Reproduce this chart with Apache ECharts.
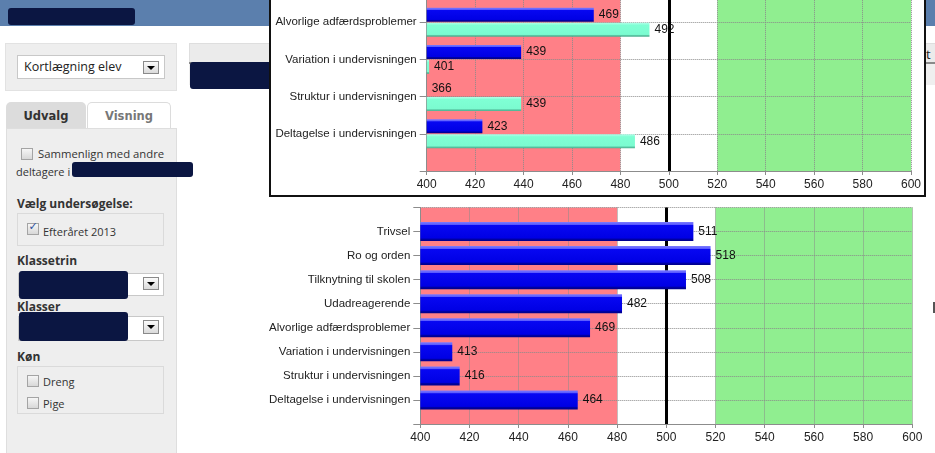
<!DOCTYPE html>
<html>
<head>
<meta charset="utf-8">
<script src="https://cdn.jsdelivr.net/npm/echarts@6/dist/echarts.min.js"></script>
<style>
html,body{margin:0;padding:0;width:935px;height:453px;overflow:hidden;background:#fff;font-family:"Open Sans",sans-serif;}
.a{position:absolute;box-sizing:border-box;}
.red{background:#0b1642;border-radius:3px;}
.t{position:absolute;white-space:nowrap;height:16px;line-height:16px;color:#222;}
.b{font-weight:bold;font-family:"Open Sans",sans-serif;font-size:12px;color:#333;}
.cb{position:absolute;box-sizing:border-box;width:12px;height:12px;border:1px solid #a4a4a4;background:linear-gradient(#f6f6f6,#d8d8d8);}
.arr{position:absolute;box-sizing:border-box;border:1px solid #8a8a8a;background:linear-gradient(#fbfbfb,#dadada);}
.arr:after{content:"";position:absolute;left:50%;top:50%;margin-left:-4px;margin-top:-2px;border-left:4px solid transparent;border-right:4px solid transparent;border-top:4px solid #000;}
.sel{position:absolute;box-sizing:border-box;background:#fff;border:1px solid #c8c8c8;}
</style>
</head>
<body>
<!-- header -->
<div class="a" style="left:0;top:0;width:935px;height:26px;background:#5b7fad;"></div>
<div class="a red" style="left:8px;top:8px;width:127px;height:17px;"></div>

<!-- top panel left -->
<div class="a" style="left:5px;top:43px;width:172px;height:48px;background:#eeeeee;border:1px solid #e2e2e2;"></div>
<div class="sel" style="left:17px;top:55px;width:148px;height:24px;"></div>
<div class="t" style="left:24px;top:59px;font-size:12.5px;color:#222;">Kortlægning elev</div>
<div class="arr" style="left:143px;top:61px;width:16px;height:13px;"></div>

<!-- middle table header -->
<div class="a" style="left:189px;top:43px;width:746px;height:20px;background:#ebebeb;border:1px solid #dedede;border-right:none;"></div>
<div class="a" style="left:189px;top:62px;width:746px;height:2px;background:#8a8a8a;"></div>
<div class="a" style="left:189px;top:64px;width:746px;height:21px;background:#efefef;"></div>
<div class="t" style="left:926px;top:46px;font-size:13px;color:#222;">t</div>
<div class="a red" style="left:190px;top:62px;width:110px;height:27px;"></div>

<!-- tabs -->
<div class="a" style="left:6px;top:102px;width:80px;height:27px;background:#dcdcdc;border-radius:5px 5px 0 0;"></div>
<div class="t b" style="left:6px;top:108px;width:80px;text-align:center;font-family:'DejaVu Sans',sans-serif;font-size:11.5px;">Udvalg</div>
<div class="a" style="left:87px;top:102px;width:84px;height:27px;background:#fff;border:1px solid #dcdcdc;border-bottom:none;border-radius:5px 5px 0 0;"></div>
<div class="t b" style="left:87px;top:108px;width:84px;text-align:center;font-family:'DejaVu Sans',sans-serif;font-size:11.5px;color:#777;">Visning</div>

<!-- panel -->
<div class="a" style="left:6px;top:128px;width:171px;height:340px;background:#eeeeee;border:1px solid #dedede;"></div>
<div class="cb" style="left:21px;top:148px;"></div>
<div class="t" style="left:38px;top:146px;font-size:11.3px;color:#333;">Sammenlign med andre</div>
<div class="t" style="left:16px;top:164px;font-size:11px;color:#333;">deltagere i</div>
<div class="a red" style="left:72px;top:162px;width:121px;height:15px;"></div>

<div class="t b" style="left:17px;top:196px;">Vælg undersøgelse:</div>
<div class="a" style="left:17px;top:213px;width:147px;height:33px;border:1px solid #dadada;"></div>
<div class="cb" style="left:27px;top:223px;"></div>
<div class="t" style="left:27px;top:219px;width:12px;text-align:center;font-size:11px;color:#2d4f9e;font-family:'DejaVu Sans',sans-serif;">✓</div>
<div class="t" style="left:43px;top:224px;font-size:11px;color:#333;">Efteråret 2013</div>

<div class="t b" style="left:17px;top:253px;">Klassetrin</div>
<div class="sel" style="left:18px;top:273px;width:146px;height:23px;"></div>
<div class="a red" style="left:19px;top:271px;width:109px;height:28px;"></div>
<div class="arr" style="left:143px;top:277px;width:16px;height:13px;"></div>

<div class="t b" style="left:17px;top:299px;">Klasser</div>
<div class="sel" style="left:18px;top:316px;width:146px;height:25px;"></div>
<div class="a red" style="left:19px;top:312px;width:109px;height:29px;"></div>
<div class="arr" style="left:143px;top:320px;width:16px;height:14px;"></div>

<div class="t b" style="left:17px;top:349px;">Køn</div>
<div class="a" style="left:17px;top:366px;width:147px;height:48px;border:1px solid #dadada;"></div>
<div class="cb" style="left:27px;top:375px;"></div>
<div class="t" style="left:43px;top:374px;font-size:11px;color:#333;">Dreng</div>
<div class="cb" style="left:27px;top:397px;"></div>
<div class="t" style="left:43px;top:396px;font-size:11px;color:#333;">Pige</div>

<div class="a" style="left:933px;top:302px;width:2px;height:11px;background:#555;"></div>

<!-- bottom chart -->
<div id="chartBottom" class="a" style="left:180px;top:190px;width:755px;height:263px;"></div>

<!-- top overlay chart -->
<div class="a" style="left:269px;top:-203px;width:657px;height:400px;border:2px solid #111;background:#fff;z-index:5;">
  <div id="chartTop" style="position:absolute;left:0;top:0;width:653px;height:396px;"></div>
</div>

<script>
// ---- data ----
const categories = ['Trivsel', 'Ro og orden', 'Tilknytning til skolen', 'Udadreagerende',
  'Alvorlige adfærdsproblemer', 'Variation i undervisningen', 'Struktur i undervisningen', 'Deltagelse i undervisningen'];
const bottomValues = [511, 518, 508, 482, 469, 413, 416, 464];
const topBlueValues = [509, 514, 505, 485, 469, 439, 366, 423];
const topGreenValues = [503, 499, 500, 489, 492, 401, 439, 486];
const xMin = 400, xMax = 600, xStep = 20;
const lowBand = [400, 480];
const highBand = [520, 600];
const refValue = 500;

// ---- style ----
const FONT = 'Liberation Sans, Arial, sans-serif';
const blueFill = new echarts.graphic.LinearGradient(0, 0, 0, 1, [
  {offset: 0, color: '#7b7bff'}, {offset: 0.13, color: '#5959ff'}, {offset: 0.17, color: '#0707f2'},
  {offset: 0.84, color: '#0000e4'}, {offset: 0.9, color: '#0000a6'}, {offset: 1, color: '#000088'}]);
const greenFill = new echarts.graphic.LinearGradient(0, 0, 0, 1, [
  {offset: 0, color: '#b2ffe9'}, {offset: 0.13, color: '#8fffdb'}, {offset: 0.17, color: '#7fffd4'},
  {offset: 0.84, color: '#7bfbd0'}, {offset: 0.9, color: '#5cc9a6'}, {offset: 1, color: '#4cae8f'}]);

const padCats = [''].concat(categories, ['']);
const pad = arr => ['-'].concat(arr, ['-']);

function axes() {
  return {
    xAxis: {
      type: 'value', min: xMin, max: xMax, interval: xStep, z: 2,
      axisLine: {show: true, lineStyle: {color: '#8c8c8c', width: 1}},
      axisTick: {show: true, length: 4, lineStyle: {color: '#8c8c8c'}},
      axisLabel: {margin: 8, color: '#222', fontSize: 12, fontFamily: FONT},
      splitLine: {show: true, lineStyle: {type: 'dotted', color: '#8a8a8a', width: 1}}
    },
    yAxis: {
      type: 'category', data: padCats, inverse: true, boundaryGap: false, z: 2,
      axisLine: {show: true, lineStyle: {color: '#8c8c8c', width: 1}},
      axisTick: {show: true, length: 7, lineStyle: {color: '#8c8c8c'}},
      axisLabel: {margin: 10, color: '#222', fontSize: 11.5, fontFamily: FONT, interval: 0},
      splitLine: {show: true, lineStyle: {type: 'dotted', color: '#8a8a8a', width: 1}}
    }
  };
}
const markArea = {
  z: 1, silent: true,
  data: [
    [{xAxis: lowBand[0], itemStyle: {color: '#ff8087'}}, {xAxis: lowBand[1]}],
    [{xAxis: highBand[0], itemStyle: {color: '#90ee90'}}, {xAxis: highBand[1]}]
  ]
};
const markLine = {
  z: 3, silent: true, symbol: 'none', animation: false,
  label: {show: false},
  lineStyle: {color: '#000', width: 3, type: 'solid'},
  data: [{xAxis: refValue}]
};
const valueLabel = {show: true, position: 'right', distance: 5, color: '#111', fontSize: 12, fontFamily: FONT};

// ---- bottom chart ----
const cb = echarts.init(document.getElementById('chartBottom'), null, {renderer: 'canvas'});
cb.setOption(Object.assign({
  animation: false,
  grid: {left: 240.3, right: 22.7, top: 17.5, bottom: 29},
  series: [{
    type: 'bar', data: pad(bottomValues), barWidth: 19, z: 4,
    itemStyle: {color: blueFill},
    label: valueLabel,
    markArea: markArea, markLine: markLine
  }]
}, axes()));

// ---- top chart ----
const topBarW = 14, topGap = 1;
// values below the axis minimum: label drawn at the axis start, in the blue bar's slot
const lowLabels = [];
topBlueValues.forEach((v, i) => {
  if (v < xMin) lowLabels.push([xMin, categories[i], v]);
});
const ct = echarts.init(document.getElementById('chartTop'), null, {renderer: 'canvas'});
ct.setOption(Object.assign({
  animation: false,
  grid: {left: 155.7, right: 11.7, top: 37.2, bottom: 24},
  series: [{
    type: 'bar', data: pad(topBlueValues), barWidth: topBarW, barGap: (topGap / topBarW * 100) + '%', z: 4,
    itemStyle: {color: blueFill},
    label: valueLabel,
    markArea: markArea, markLine: markLine
  }, {
    type: 'bar', data: pad(topGreenValues), barWidth: topBarW, barGap: (topGap / topBarW * 100) + '%', z: 4,
    itemStyle: {color: greenFill},
    label: valueLabel
  }, {
    type: 'custom', z: 6, clip: false, silent: true,
    encode: {x: 0, y: 1},
    data: lowLabels,
    renderItem: function (params, api) {
      const p = api.coord([api.value(0), api.value(1)]);
      return {
        type: 'text',
        x: p[0] + 5,
        y: p[1] - (topBarW + topGap) / 2,
        style: {text: String(api.value(2)), fill: '#111', font: '12px ' + FONT, align: 'left', verticalAlign: 'middle'}
      };
    }
  }]
}, axes()));
</script>
</body>
</html>
